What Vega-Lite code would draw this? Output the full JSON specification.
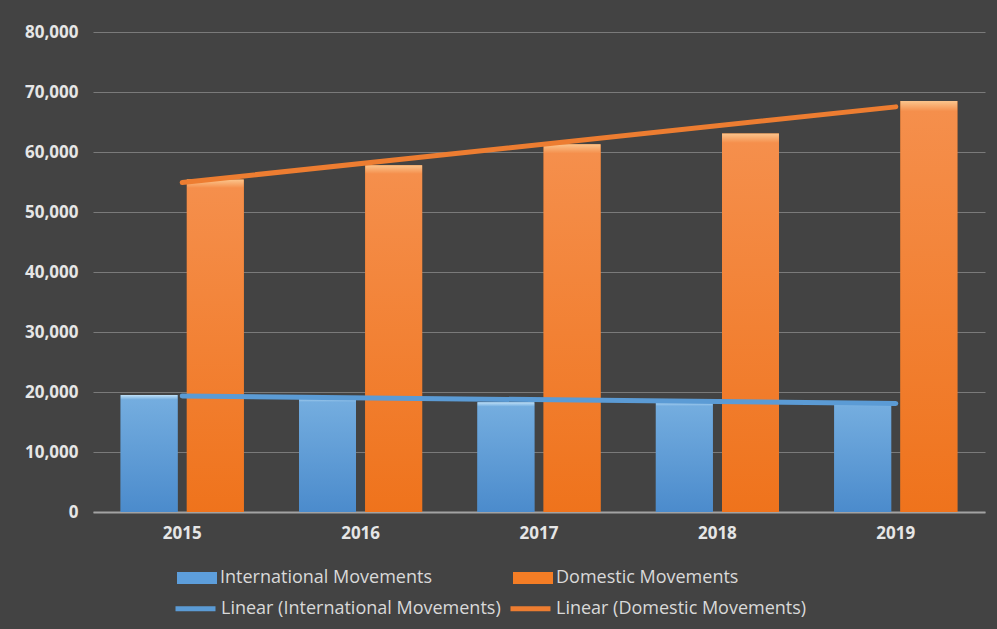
{
  "$schema": "https://vega.github.io/schema/vega-lite/v6.json",
  "autosize": {"type": "none"},
  "width": 892,
  "height": 480,
  "padding": {"left": 93, "top": 32, "right": 12, "bottom": 117},
  "background": "#434343",
  "config": {"view": {"stroke": null}, "font": "Open Sans"},
  "data": {
    "values": [
      {"year": 2015, "series": "International Movements", "trend": "Linear (International Movements)", "value": 19500},
      {"year": 2016, "series": "International Movements", "trend": "Linear (International Movements)", "value": 19100},
      {"year": 2017, "series": "International Movements", "trend": "Linear (International Movements)", "value": 18300},
      {"year": 2018, "series": "International Movements", "trend": "Linear (International Movements)", "value": 18400},
      {"year": 2019, "series": "International Movements", "trend": "Linear (International Movements)", "value": 18300},
      {"year": 2015, "series": "Domestic Movements", "trend": "Linear (Domestic Movements)", "value": 55400},
      {"year": 2016, "series": "Domestic Movements", "trend": "Linear (Domestic Movements)", "value": 57800},
      {"year": 2017, "series": "Domestic Movements", "trend": "Linear (Domestic Movements)", "value": 61300},
      {"year": 2018, "series": "Domestic Movements", "trend": "Linear (Domestic Movements)", "value": 63100},
      {"year": 2019, "series": "Domestic Movements", "trend": "Linear (Domestic Movements)", "value": 68500}
    ]
  },
  "encoding": {
    "x": {
      "field": "year", "type": "ordinal",
      "scale": {"paddingInner": 0.31, "paddingOuter": 0.155},
      "axis": {
        "title": null, "labelAngle": 0, "labelFont": "Open Sans", "labelFontWeight": "bold",
        "labelFontSize": 17, "labelColor": "#e6e6e6", "labelPadding": 13, "ticks": false,
        "domainColor": "#a3a3a3", "domainWidth": 2, "grid": false
      }
    },
    "y": {
      "field": "value", "type": "quantitative",
      "scale": {"domain": [0, 80000]},
      "axis": {
        "title": null, "values": [0, 10000, 20000, 30000, 40000, 50000, 60000, 70000, 80000],
        "format": ",.0f", "labelFont": "Open Sans", "labelFontWeight": "bold", "labelFontSize": 17,
        "labelColor": "#e6e6e6", "labelPadding": 15, "ticks": false, "domain": false,
        "gridColor": "#7a7a7a", "gridWidth": 1
      }
    }
  },
  "layer": [
    {
      "mark": {"type": "bar"},
      "encoding": {
        "xOffset": {
          "field": "series", "type": "nominal",
          "scale": {"domain": ["International Movements", "Domestic Movements"], "paddingInner": 0.14}
        },
        "fill": {
          "field": "series", "type": "nominal",
          "scale": {"domain": ["International Movements", "Domestic Movements"], "range": ["#5d9edb", "#f47d25"]},
          "legend": {
            "title": null, "orient": "none", "legendX": 84, "legendY": 526, "direction": "horizontal",
            "columns": 2, "columnPadding": 81, "padding": 0,
            "symbolType": "M-1,-0.3H1V0.3H-1Z", "symbolSize": 1600, "symbolStrokeWidth": 0,
            "labelFont": "Open Sans", "labelFontSize": 18, "labelColor": "#d9d9d9", "labelOffset": 3, "labelLimit": 500
          }
        }
      }
    },
    {
      "transform": [{"filter": "datum.series === 'International Movements'"}],
      "mark": {
        "type": "bar",
        "fill": {"gradient": "linear", "x1": 0, "y1": 0, "x2": 0, "y2": 1,
          "stops": [{"offset": 0, "color": "#bfe0f7"}, {"offset": 0.04, "color": "#74addf"}, {"offset": 1, "color": "#4b8bcc"}]}
      },
      "encoding": {
        "xOffset": {"field": "series", "type": "nominal"}
      }
    },
    {
      "transform": [{"filter": "datum.series === 'Domestic Movements'"}],
      "mark": {
        "type": "bar",
        "fill": {"gradient": "linear", "x1": 0, "y1": 0, "x2": 0, "y2": 1,
          "stops": [{"offset": 0, "color": "#fbc58d"}, {"offset": 0.025, "color": "#f58f4c"}, {"offset": 1, "color": "#ef731c"}]}
      },
      "encoding": {
        "xOffset": {"field": "series", "type": "nominal"}
      }
    },
    {
      "transform": [{"regression": "value", "on": "year", "groupby": ["trend"], "method": "linear"}],
      "mark": {"type": "line", "strokeWidth": 5, "strokeCap": "round"},
      "encoding": {
        "stroke": {
          "field": "trend", "type": "nominal",
          "scale": {"domain": ["Linear (International Movements)", "Linear (Domestic Movements)"], "range": ["#5b9bd5", "#ed7d31"]},
          "legend": {
            "title": null, "orient": "none", "legendX": 80, "legendY": 554, "direction": "horizontal",
            "columns": 2, "columnPadding": -1, "padding": 0,
            "symbolType": "stroke", "symbolSize": 1600, "symbolStrokeWidth": 5,
            "labelFont": "Open Sans", "labelFontSize": 18, "labelColor": "#d9d9d9", "labelOffset": 3, "labelLimit": 500
          }
        }
      }
    }
  ]
}
